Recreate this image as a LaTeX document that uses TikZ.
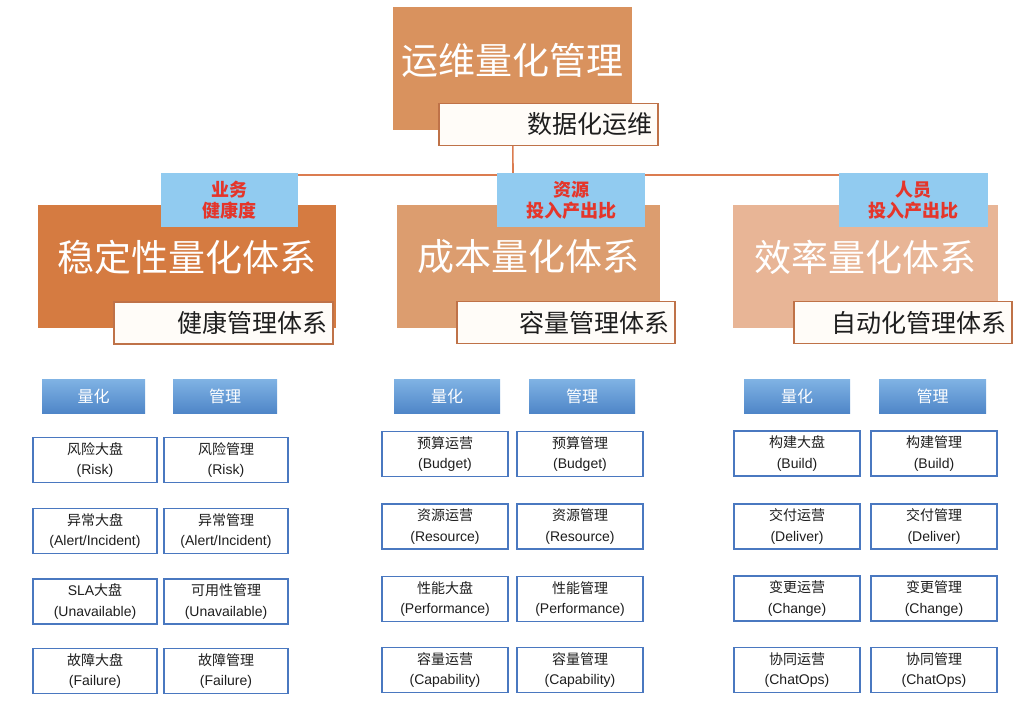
\documentclass[tikz,border=0pt]{standalone}
\usepackage{fontspec}
\newfontfamily\cjk{Noto Sans CJK SC}
\newfontfamily\engfont{Liberation Sans}
\usetikzlibrary{backgrounds}
\definecolor{ink}{HTML}{1E1E1E}
\definecolor{topfill}{HTML}{D9925E}
\definecolor{stabfill}{HTML}{D57B41}
\definecolor{costfill}{HTML}{DC9D6F}
\definecolor{efffill}{HTML}{E8B596}
\definecolor{subedge}{HTML}{BF7248}
\definecolor{subfill}{HTML}{FFFCF8}
\definecolor{linkline}{HTML}{DB7C50}
\definecolor{tagblue}{HTML}{91CBF0}
\definecolor{tagred}{HTML}{E5352A}
\definecolor{headtop}{HTML}{80B3E4}
\definecolor{headbot}{HTML}{4F86C8}
\definecolor{cellline}{HTML}{4A78C0}
\newcommand\cellbox[2]{#1\\{\engfont(#2)}}

\begin{document}
\begin{tikzpicture}[x=1pt,y=-1pt,font=\cjk,
  bigbox/.style={inner sep=0pt,minimum height=123pt},
  bigtext/.style={text=white,font=\cjk\fontsize{37}{40}\selectfont},
  subbox/.style={draw=subedge,line width=1.2pt,fill=subfill,text=ink,
    font=\cjk\fontsize{25}{28}\selectfont,align=right,inner xsep=6pt,
    text width=207pt,minimum height=42pt},
  tagbox/.style={fill=tagblue,text=tagred,font=\cjk\bfseries\fontsize{18}{21}\selectfont,
    align=center,inner sep=0pt,minimum height=54pt},
  headbox/.style={top color=headtop,bottom color=headbot,text=white,
    font=\cjk\fontsize{16}{18}\selectfont,inner sep=0pt,minimum height=34pt},
  cell/.style={draw=cellline,line width=1.2pt,fill=white,text=ink,align=center,
    font=\cjk\fontsize{14}{20.5}\selectfont,inner sep=0pt,minimum height=45pt},
  link/.style={draw=linkline,line width=1.6pt}]
  \useasboundingbox (0,0) rectangle (1026,714);

  % top
  \node[bigbox,fill=topfill,minimum width=239pt] (ops) at (512.5,68.5) {};
  \node[bigtext] (opsText) at (512.5,60) {运维量化管理};
  \node[subbox,text width=207pt] (opsSub) at (548.5,124.5) {数据化运维};
  \coordinate (hub) at (513,175);

  % three systems
  \node[bigbox,fill=stabfill,minimum width=298pt] (stab) at (187,266.5) {};
  \node[bigbox,fill=costfill,minimum width=263pt] (cost) at (528.5,266.5) {};
  \node[bigbox,fill=efffill,minimum width=265pt] (eff) at (865.5,266.5) {};
  \node[bigtext] (stabText) at (187,257) {稳定性量化体系};
  \node[bigtext] (costText) at (528.5,257) {成本量化体系};
  \node[bigtext] (effText) at (865.5,257) {效率量化体系};
  \node[subbox] (stabSub) at (223.5,323) {健康管理体系};
  \node[subbox,text width=206pt] (costSub) at (566,322.5) {容量管理体系};
  \node[subbox,text width=206pt] (effSub) at (903,322.5) {自动化管理体系};
  \node[tagbox,minimum width=137pt] (stabTag) at (229.5,200) {业务\\健康度};
  \node[tagbox,minimum width=148pt] (costTag) at (571,200) {资源\\投入产出比};
  \node[tagbox,minimum width=149pt] (effTag) at (913.5,200) {人员\\投入产出比};

  \begin{scope}[on background layer]
    \draw[link] (ops.center) -- (hub);
    \draw[link] (stabTag.center |- hub) -- (effTag.center |- hub);
  \end{scope}

  % headers
  \node[headbox,minimum width=103pt] (stabQ) at (93.5,396) {量化};
  \node[headbox,minimum width=104pt] (stabM) at (225,396) {管理};
  \node[headbox,minimum width=106pt] (costQ) at (447,396) {量化};
  \node[headbox,minimum width=106pt] (costM) at (582,396) {管理};
  \node[headbox,minimum width=106pt] (effQ) at (797,396) {量化};
  \node[headbox,minimum width=107pt] (effM) at (932.5,396) {管理};

  % stability cells
  \node[cell,minimum width=124pt] (stabQ1) at (95,460) {\cellbox{风险大盘}{Risk}};
  \node[cell,minimum width=124pt] (stabQ2) at (95,531) {\cellbox{异常大盘}{Alert/Incident}};
  \node[cell,minimum width=124pt] (stabQ3) at (95,601.5) {\cellbox{{\engfont SLA}大盘}{Unavailable}};
  \node[cell,minimum width=124pt] (stabQ4) at (95,671) {\cellbox{故障大盘}{Failure}};
  \node[cell,minimum width=124pt] (stabM1) at (226,460) {\cellbox{风险管理}{Risk}};
  \node[cell,minimum width=124pt] (stabM2) at (226,531) {\cellbox{异常管理}{Alert/Incident}};
  \node[cell,minimum width=124pt] (stabM3) at (226,601.5) {\cellbox{可用性管理}{Unavailable}};
  \node[cell,minimum width=124pt] (stabM4) at (226,671) {\cellbox{故障管理}{Failure}};

  % cost cells
  \node[cell,minimum width=126pt] (costQ1) at (445,454) {\cellbox{预算运营}{Budget}};
  \node[cell,minimum width=126pt] (costQ2) at (445,526.5) {\cellbox{资源运营}{Resource}};
  \node[cell,minimum width=126pt] (costQ3) at (445,599) {\cellbox{性能大盘}{Performance}};
  \node[cell,minimum width=126pt] (costQ4) at (445,670) {\cellbox{容量运营}{Capability}};
  \node[cell,minimum width=126pt] (costM1) at (580,454) {\cellbox{预算管理}{Budget}};
  \node[cell,minimum width=126pt] (costM2) at (580,526.5) {\cellbox{资源管理}{Resource}};
  \node[cell,minimum width=126pt] (costM3) at (580,599) {\cellbox{性能管理}{Performance}};
  \node[cell,minimum width=126pt] (costM4) at (580,670) {\cellbox{容量管理}{Capability}};

  % efficiency cells
  \node[cell,minimum width=126pt] (effQ1) at (797,453.5) {\cellbox{构建大盘}{Build}};
  \node[cell,minimum width=126pt] (effQ2) at (797,526.5) {\cellbox{交付运营}{Deliver}};
  \node[cell,minimum width=126pt] (effQ3) at (797,598.5) {\cellbox{变更运营}{Change}};
  \node[cell,minimum width=126pt] (effQ4) at (797,670) {\cellbox{协同运营}{ChatOps}};
  \node[cell,minimum width=126pt] (effM1) at (934,453.5) {\cellbox{构建管理}{Build}};
  \node[cell,minimum width=126pt] (effM2) at (934,526.5) {\cellbox{交付管理}{Deliver}};
  \node[cell,minimum width=126pt] (effM3) at (934,598.5) {\cellbox{变更管理}{Change}};
  \node[cell,minimum width=126pt] (effM4) at (934,670) {\cellbox{协同管理}{ChatOps}};
\end{tikzpicture}
\end{document}
